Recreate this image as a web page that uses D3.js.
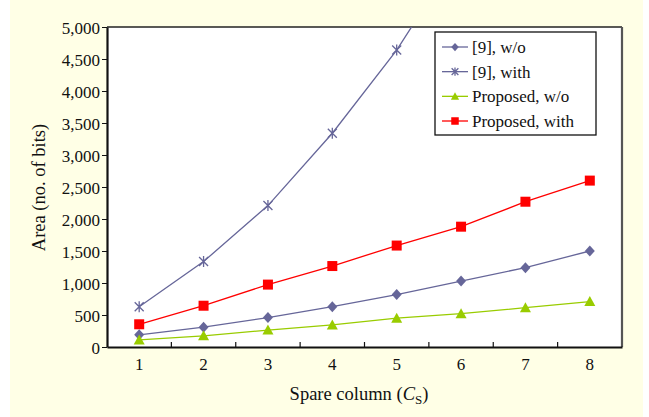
<!DOCTYPE html>
<html>
<head>
  <meta charset="utf-8">
  <title>Area vs spare column</title>
  <script src="https://d3js.org/d3.v7.min.js"></script>
<style type="text/css">
body {
  margin: 0;
  background: #fff;
  font-family: "Liberation Serif", "Times New Roman", serif;
}
svg text {
  font-family: "Liberation Serif", "Times New Roman", serif;
  font-size: 17px;
  fill: #111;
}
svg text.title {
  font-size: 18.5px;
}
svg text.legend-label {
  font-size: 17px;
}
.axis path, .axis line {
  stroke: #111;
}
</style>
</head>
<body>
<svg id="chart" width="649" height="417"></svg>
<script type="text/javascript">

// data
let columns = [1, 2, 3, 4, 5, 6, 7, 8];
let yTicks = [0, 500, 1000, 1500, 2000, 2500, 3000, 3500, 4000, 4500, 5000];

let ref9Without = [190, 310, 460, 630, 820, 1030, 1240, 1500];
let ref9With = [630, 1335, 2210, 3340, 4640, 6200];
let proposedWithout = [110, 175, 265, 345, 450, 520, 615, 710];
let proposedWith = [355, 645, 975, 1265, 1585, 1880, 2270, 2600];

let series = [
  { name: '[9], w/o', values: ref9Without, color: '#666699', marker: 'diamond' },
  { name: '[9], with', values: ref9With, color: '#666699', marker: 'star' },
  { name: 'Proposed, w/o', values: proposedWithout, color: '#99CC00', marker: 'triangle' },
  { name: 'Proposed, with', values: proposedWith, color: '#FF0000', marker: 'square' }
];

let svg = d3.select('#chart');

// pale yellow backdrop
svg.append('rect')
  .attr('x', 10).attr('y', 0)
  .attr('width', 633).attr('height', 417)
  .attr('fill', '#FFFFE6');

let plotL = 107, plotR = 622, plotT = 27, plotB = 347;

let x = d3.scaleBand()
  .domain(columns)
  .range([plotL, plotR])
  .padding(0);

let y = d3.scaleLinear()
  .domain([0, 5000])
  .range([plotB, plotT]);

let cx = d => x(d) + x.bandwidth() / 2;

// plot area
svg.append('rect')
  .attr('x', plotL).attr('y', plotT)
  .attr('width', plotR - plotL).attr('height', plotB - plotT)
  .attr('fill', '#fff');

// right / top frame
svg.append('line')
  .attr('x1', plotL).attr('x2', plotR).attr('y1', plotT).attr('y2', plotT)
  .attr('stroke', '#222').attr('stroke-width', 1.5);
svg.append('line')
  .attr('x1', plotR).attr('x2', plotR).attr('y1', plotT).attr('y2', plotB)
  .attr('stroke', '#555').attr('stroke-width', 2.2);

svg.append('clipPath').attr('id', 'plotclip')
  .append('rect')
  .attr('x', plotL).attr('y', plotT)
  .attr('width', plotR - plotL).attr('height', plotB - plotT);

let line = d3.line()
  .x((d, i) => cx(columns[i]))
  .y(d => y(d));

let lines = svg.append('g').attr('clip-path', 'url(#plotclip)');

series.forEach(s => {
  lines.append('path')
    .datum(s.values)
    .attr('d', line)
    .attr('fill', 'none')
    .attr('stroke', s.color)
    .attr('stroke-width', 1.3);
});

function drawMarker(g, type, color, k) {
  if (type === 'diamond') {
    g.append('path')
      .attr('d', 'M0,-5.5L5,0L0,5.5L-5,0Z')
      .attr('fill', color);
  } else if (type === 'square') {
    g.append('rect')
      .attr('x', -5).attr('y', -5).attr('width', 10).attr('height', 10)
      .attr('fill', color);
  } else if (type === 'triangle') {
    g.append('path')
      .attr('d', 'M0,-5.5L5.5,4.5L-5.5,4.5Z')
      .attr('fill', color);
  } else if (type === 'star') {
    g.append('path')
      .attr('d', 'M-4.5,-4.5L4.5,4.5M-4.5,4.5L4.5,-4.5M0,-5.5L0,5.5')
      .attr('stroke', color)
      .attr('stroke-width', 1.3 / k)
      .attr('fill', 'none');
  }
}

let markers = svg.append('g').attr('clip-path', 'url(#plotclip)');
series.forEach(s => {
  s.values.forEach((v, i) => {
    let g = markers.append('g')
      .attr('transform', 'translate(' + cx(columns[i]) + ',' + y(v) + ')');
    drawMarker(g, s.marker, s.color, 1);
  });
});

// axes
let yAxis = svg.append('g')
  .attr('class', 'axis')
  .attr('transform', 'translate(' + plotL + ',0)')
  .call(d3.axisLeft(y).tickValues(yTicks).tickFormat(d3.format(',')).tickSize(5).tickSizeOuter(0));
yAxis.select('.domain').attr('stroke-width', 2.2);
yAxis.selectAll('text').attr('x', -7).attr('dy', '0.36em');

let xAxis = svg.append('g')
  .attr('class', 'axis')
  .attr('transform', 'translate(0,' + plotB + ')')
  .call(d3.axisBottom(x).tickSize(0).tickSizeOuter(0));
xAxis.select('.domain').attr('stroke-width', 2.2);
xAxis.selectAll('text').attr('y', 11).attr('dy', '0.71em');

// x ticks between categories, pointing inwards
svg.append('g')
  .selectAll('line')
  .data(columns.slice(1))
  .join('line')
  .attr('x1', d => x(d)).attr('x2', d => x(d))
  .attr('y1', plotB).attr('y2', plotB - 5)
  .attr('stroke', '#111').attr('stroke-width', 1.2);

svg.selectAll('.axis text')
  .attr('font-family', null)
  .style('font-size', '17px');

// titles
let xt = svg.append('text')
  .attr('class', 'title')
  .attr('x', 359).attr('y', 400)
  .attr('text-anchor', 'middle');
xt.append('tspan').text('Spare column (');
xt.append('tspan').style('font-style', 'italic').text('C');
xt.append('tspan').attr('dy', 4).style('font-size', '13px').text('S');
xt.append('tspan').attr('dy', -4).text(')');

svg.append('text')
  .attr('class', 'title')
  .attr('transform', 'translate(45,187.5) rotate(-90)')
  .attr('text-anchor', 'middle')
  .text('Area (no. of bits)');

// legend
let legend = svg.append('g');
legend.append('rect')
  .attr('x', 435).attr('y', 32)
  .attr('width', 161).attr('height', 103)
  .attr('fill', '#fff')
  .attr('stroke', '#111')
  .attr('stroke-width', 1.3);

let legendY = d3.scalePoint()
  .domain(series.map(s => s.name))
  .range([47, 121]);

series.forEach(s => {
  let ly = legendY(s.name);
  let g = legend.append('g');
  g.append('line')
    .attr('x1', 442).attr('x2', 468)
    .attr('y1', ly).attr('y2', ly)
    .attr('stroke', s.color).attr('stroke-width', 1.3);
  let m = g.append('g').attr('transform', 'translate(455,' + ly + ') scale(0.75)');
  drawMarker(m, s.marker, s.color, 0.75);
  g.append('text')
    .attr('class', 'legend-label')
    .attr('x', 472).attr('y', ly)
    .attr('dy', '0.35em')
    .text(s.name);
});

</script>
</body>
</html>
